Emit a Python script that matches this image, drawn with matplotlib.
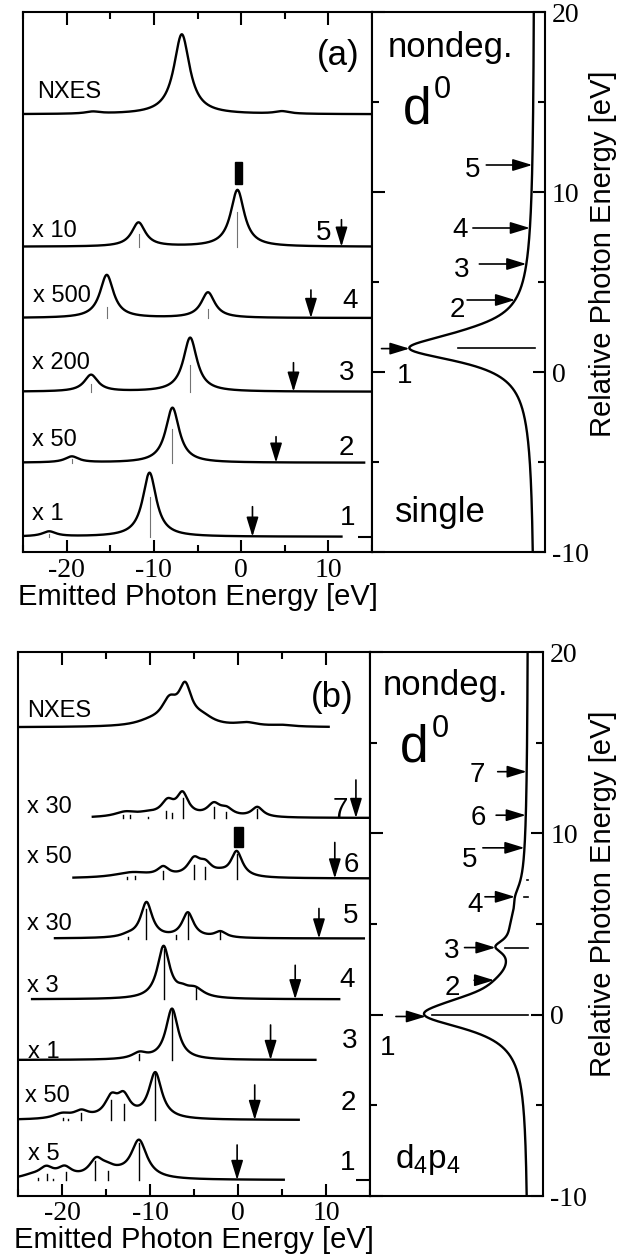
import numpy as np
import matplotlib
matplotlib.use('Agg')
import matplotlib.pyplot as plt
from matplotlib.patches import Rectangle
from matplotlib.ticker import MultipleLocator

plt.rcParams['font.family'] = ['Liberation Sans', 'DejaVu Sans']
plt.rcParams['axes.unicode_minus'] = False
plt.rcParams['mathtext.fontset'] = 'custom'
plt.rcParams['mathtext.rm'] = 'Liberation Sans'
plt.rcParams['mathtext.it'] = 'Liberation Sans'

# ---------------- data: panel (a), single level ----------------
# peaks are (centre eV, height, half width), sticks are (eV, height)
a_scale = ['x 1', 'x 50', 'x 200', 'x 500', 'x 10']
a_excite = [1.3, 4.0, 6.0, 8.0, 11.5]
a_ranges = [(-25, 11.5), (-25, 14.1), (-25, 15), (-25, 15), (-25, 15)]
a_peaks = [
    [(-22.0, 5, 0.95), (-10.5, 64, 0.95)],
    [(-19.4, 6, 0.95), (-7.87, 55, 0.95)],
    [(-17.2, 16.7, 0.95), (-5.84, 54, 0.95)],
    [(-15.4, 43, 0.95), (-3.8, 25.5, 0.95)],
    [(-11.76, 24, 0.95), (-0.42, 56.7, 0.95)],
]
a_sticks = [
    [(-22.0, 3), (-10.5, 40)],
    [(-19.4, 4), (-7.87, 34)],
    [(-17.2, 8), (-5.84, 27)],
    [(-15.4, 11), (-3.8, 9)],
    [(-11.76, 13), (-0.42, 35)],
]
a_nxes_peaks = [(-6.8, 80, 1.1), (-17.0, 2, 1.0), (4.7, 2.5, 1.0)]
a_nxes_range = (-25, 15)
a_abs_peaks = [(1.3, 110, 0.9), (2.2, 18, 0.9), (1.5, 6, 5.0)]
a_abs_sticks = [(1.33, 77)]

# ---------------- data: panel (b), d4p4 ----------------
b_scale = ['x 5', 'x 50', 'x 1', 'x 3', 'x 30', 'x 50', 'x 30']
b_excite = [-0.1, 1.9, 3.7, 6.5, 9.2, 11.0, 13.4]
b_ranges = [(-25, 5.2), (-25, 6.9), (-25, 8.8), (-23.4, 11.5),
            (-20.8, 14.3), (-18.7, 15), (-16.5, 15)]
b_peaks = [
    [(-23.5, 3, 1.5), (-21.8, 10, 1.0), (-19.7, 10, 1.0), (-16.1, 17, 1.0),
     (-14.8, 6, 1.0), (-13.5, 3, 1.5), (-11.25, 38, 1.1)],
    [(-20.0, 5, 1.2), (-17.8, 7, 1.0), (-14.4, 19, 0.9), (-13.0, 20, 0.9),
     (-9.4, 46, 0.9)],
    [(-11.2, 6, 1.0), (-7.5, 51, 0.85)],
    [(-8.46, 52, 0.85), (-6.3, 5, 0.8), (-4.9, 9, 1.2)],
    [(-12.5, 2, 1.0), (-10.4, 35.5, 0.8), (-5.7, 25, 0.8), (-2.0, 6, 0.8)],
    [(-12.0, 5.5, 2.5), (-8.5, 9, 0.8), (-5.0, 16.5, 0.9), (-3.7, 11, 0.9),
     (-2.0, 2.5, 1.0), (-0.15, 25.5, 0.8)],
    [(-12.8, 5, 1.5), (-10.3, 3, 1.5), (-8.0, 14, 0.9), (-6.3, 22, 0.8),
     (-2.75, 12, 0.9), (-1.3, 7, 0.9), (2.2, 10, 0.8)],
]
b_sticks = [
    [(-22.7, 2), (-21.7, 6), (-21.0, 1), (-19.6, 8), (-16.2, 19), (-14.8, 9),
     (-11.25, 37)],
    [(-19.9, 2), (-19.3, 1), (-17.8, 7), (-14.4, 20), (-13.0, 16), (-9.4, 46)],
    [(-11.2, 6), (-7.5, 50)],
    [(-8.46, 50), (-4.76, 11)],
    [(-12.5, 2), (-10.4, 30), (-7.0, 4), (-5.7, 25), (-2.0, 7)],
    [(-12.6, 2), (-11.7, 3), (-8.5, 8), (-5.0, 14), (-3.7, 12), (-0.15, 25)],
    [(-13.1, 3), (-12.3, 3), (-10.2, 1), (-8.2, 7), (-7.5, 5), (-6.2, 20),
     (-2.75, 11), (-1.4, 6), (2.2, 9)],
]
b_nxes_peaks = [(-6.0, 36, 0.9), (-7.8, 22, 1.1), (-4.0, 7, 1.5),
                (-10.0, 4, 2.0), (1.0, 3.5, 1.5), (5.0, 1.5, 1.5)]
b_nxes_range = (-25, 10.3)
b_abs_peaks = [(0.0, 95, 1.0), (0.8, 12, 0.7), (1.9, 5, 0.8), (3.75, 18, 0.45),
               (5.0, 8, 1.2), (6.5, 5, 0.8), (3.0, 3, 6.0)]
b_abs_sticks = [(0.0, 96), (3.7, 23), (6.5, 4), (7.4, 1.5)]

x_ticks = [-20, -10, 0, 10]
y_ticks = [-10, 0, 10, 20]

# ---------------- layout (pixels) ----------------
W, H = 639, 1258
A_BASE = [15.3, 89.3, 160.3, 234, 305.3]
A_NXES_BASE = 437.7
B_BASE = [15.5, 75.5, 135.5, 196.2, 257, 317, 377.5]
B_NXES_BASE = 468.2
A_ARROW_LEN = [30, 26, 29, 28, 27]
B_ARROW_LEN = [35, 35, 35, 34, 30, 36, 38]
A_NUM_XY = [(348, 525), (346.5, 455), (346.5, 380), (350, 308.3), (323.5, 240)]
B_NUM_XY = [(348, 1170), (348.5, 1110), (349.5, 1048.3), (347.5, 986.7),
            (350.5, 923.3), (351.7, 871.7), (340, 816.7)]
A_SCALE_XY = [(32, 520), (32, 446), (32, 369.3), (33, 301.7), (32, 236.7)]
B_SCALE_XY = [(28, 1160), (25, 1101.7), (28, 1058.3), (27, 991.7), (27, 930),
              (26.7, 863.3), (26.7, 813.3)]
A_ABS_ARROW_LEN = [28, 48, 47, 57, 46]
B_ABS_ARROW_LEN = [30, 20, 31, 30, 41.6, 29.7, 29]
A_ABS_LABEL_XY = [(405, 383.3), (457, 316.7), (461.5, 276.7), (460, 236.7),
                  (472.5, 176.7)]
B_ABS_LABEL_XY = [(388, 1055), (452.5, 995), (451.5, 958.3), (475, 911.7),
                  (470, 866.7), (478.5, 825), (477.5, 781.7)]

fig = plt.figure(figsize=(W / 100, H / 100), dpi=100)

ARROW = dict(arrowstyle='-|>,head_length=0.85,head_width=0.26', mutation_scale=14,
             color='k', lw=1.2, shrinkA=0, shrinkB=0)


def px_axes(x0, y0, x1, y1):
    return fig.add_axes([x0 / W, 1 - y1 / H, (x1 - x0) / W, (y1 - y0) / H])


def ftext(x, y, s, **kw):
    fig.text(x / W, 1 - y / H, s, **kw)


def lorentz(x, peaks):
    y = np.zeros_like(x, dtype=float)
    for c, h, g in peaks:
        y += h * g ** 2 / ((x - c) ** 2 + g ** 2)
    return y


def style_spines(ax):
    for sp in ax.spines.values():
        sp.set_linewidth(1.5)


def draw_emission(ax, height, bases, ranges, peaks, sticks, excite, arrow_len,
                  nxes_peaks, nxes_range, nxes_base, stick_kw):
    ax.set_xlim(-25, 15)
    ax.set_ylim(0, height)
    for base, (x0, x1), pk, st, ex, al in zip(bases, ranges, peaks, sticks,
                                              excite, arrow_len):
        x = np.linspace(x0, x1, 2000)
        ax.plot(x, base + lorentz(x, pk), color='k', lw=1.7, zorder=3)
        for e, h in st:
            ax.plot([e, e], [base, base + h], zorder=2, **stick_kw)
        ax.annotate('', xy=(ex, base), xytext=(ex, base + al), arrowprops=ARROW)
    x = np.linspace(*nxes_range, 2000)
    ax.plot(x, nxes_base + lorentz(x, nxes_peaks), color='k', lw=1.7)

    ax.set_xticks(x_ticks)
    ax.xaxis.set_minor_locator(MultipleLocator(5))
    ax.tick_params(axis='x', which='both', direction='in', top=True, bottom=True,
                   width=1.5, labelsize=20, pad=4,
                   labelfontfamily='Liberation Serif')
    ax.tick_params(axis='x', which='major', length=9)
    ax.tick_params(axis='x', which='minor', length=5)
    ax.set_yticks([bases[0]])
    ax.tick_params(axis='y', direction='in', left=False, right=True,
                   labelleft=False, length=10, width=1.5)
    ax.set_xlabel('Emitted Photon Energy [eV]', fontsize=21, labelpad=0)
    style_spines(ax)


def draw_absorption(ax, zero_px, width_px, peaks, sticks, excite, arrow_len):
    e = np.linspace(-10, 20, 3000)
    ax.plot(lorentz(e, peaks), e, color='k', lw=1.7)
    for en, h in sticks:
        ax.plot([0, h], [en, en], color='k', lw=1.2)
    for en, al in zip(excite, arrow_len):
        tip = lorentz(np.array([en]), peaks)[0]
        ax.annotate('', xy=(tip, en), xytext=(tip + al, en), arrowprops=ARROW)
    ax.set_xlim(width_px - zero_px, -zero_px)
    ax.set_ylim(-10, 20)
    ax.set_xticks([])
    ax.set_yticks(y_ticks)
    ax.yaxis.set_minor_locator(MultipleLocator(5))
    ax.tick_params(axis='y', which='both', direction='in', left=True, right=True,
                   labelleft=False, labelright=True, width=1.5, labelsize=20,
                   pad=5, labelfontfamily='Liberation Serif')
    ax.tick_params(axis='y', which='major', length=9)
    ax.tick_params(axis='y', which='minor', length=5)
    style_spines(ax)


# ---------------- panel (a) ----------------
ax1 = px_axes(23, 12, 372, 552)
draw_emission(ax1, 540, A_BASE, a_ranges, a_peaks, a_sticks, a_excite,
              A_ARROW_LEN, a_nxes_peaks, a_nxes_range, A_NXES_BASE,
              dict(color='0.45', lw=0.8))
ax1.add_patch(Rectangle((-0.72, 367.7), 0.87, 22.6, color='k', zorder=4))

ax2 = px_axes(372, 12, 545, 552)
draw_absorption(ax2, 10.5, 173, a_abs_peaks, a_abs_sticks, a_excite,
                A_ABS_ARROW_LEN)

# ---------------- panel (b) ----------------
ax3 = px_axes(18, 652, 370, 1195.5)
draw_emission(ax3, 543.5, B_BASE, b_ranges, b_peaks, b_sticks, b_excite,
              B_ARROW_LEN, b_nxes_peaks, b_nxes_range, B_NXES_BASE,
              dict(color='k', lw=1.0))
ax3.add_patch(Rectangle((-0.49, 348.2), 1.02, 20.6, color='k', zorder=4))

ax4 = px_axes(370, 652, 543.3, 1196)
draw_absorption(ax4, 15, 173.3, b_abs_peaks, b_abs_sticks, b_excite,
                B_ABS_ARROW_LEN)

# ---------------- texts ----------------
for i, (x, y) in enumerate(A_NUM_XY):
    ftext(x, y, str(i + 1), fontsize=20, ha='center', va='baseline')
for i, (x, y) in enumerate(B_NUM_XY):
    ftext(x, y, str(i + 1), fontsize=20, ha='center', va='baseline')
for s, (x, y) in zip(a_scale, A_SCALE_XY):
    ftext(x, y, s, fontsize=17, ha='left', va='baseline')
for s, (x, y) in zip(b_scale, B_SCALE_XY):
    ftext(x, y, s, fontsize=17, ha='left', va='baseline')
for i, (x, y) in enumerate(A_ABS_LABEL_XY):
    ftext(x, y, str(i + 1), fontsize=20, ha='center', va='baseline')
for i, (x, y) in enumerate(B_ABS_LABEL_XY):
    ftext(x, y, str(i + 1), fontsize=20, ha='center', va='baseline')

ftext(37, 98.3, 'NXES', fontsize=17, ha='left', va='baseline')
ftext(26.7, 716.7, 'NXES', fontsize=17, ha='left', va='baseline')
ftext(338.5, 55, '(a)', fontsize=25, ha='center', va='center')
ftext(332.5, 698, '(b)', fontsize=25, ha='center', va='center')

for top in (0, 1):
    dy = [0, 638.5][top]
    ftext(388 - 5 * top, 56.7 + dy, 'nondeg.', fontsize=25, ha='left',
          va='baseline')
    ftext(403 - 3 * top, 123.3 + dy, 'd', fontsize=37, ha='left', va='baseline')
    ftext(434 - 2 * top, 98.3 + dy, '0', fontsize=22, ha='left', va='baseline')

ftext(395, 521.7, 'single', fontsize=25, ha='left', va='baseline')
ftext(395, 1168.3, r'$\mathregular{d_4p_4}$', fontsize=24, ha='left',
      va='baseline')

ftext(603, 253.5, 'Relative Photon Energy [eV]', fontsize=21, rotation=90,
      ha='center', va='center')
ftext(603, 894, 'Relative Photon Energy [eV]', fontsize=21, rotation=90,
      ha='center', va='center')

fig.savefig('out.png', dpi=100)
